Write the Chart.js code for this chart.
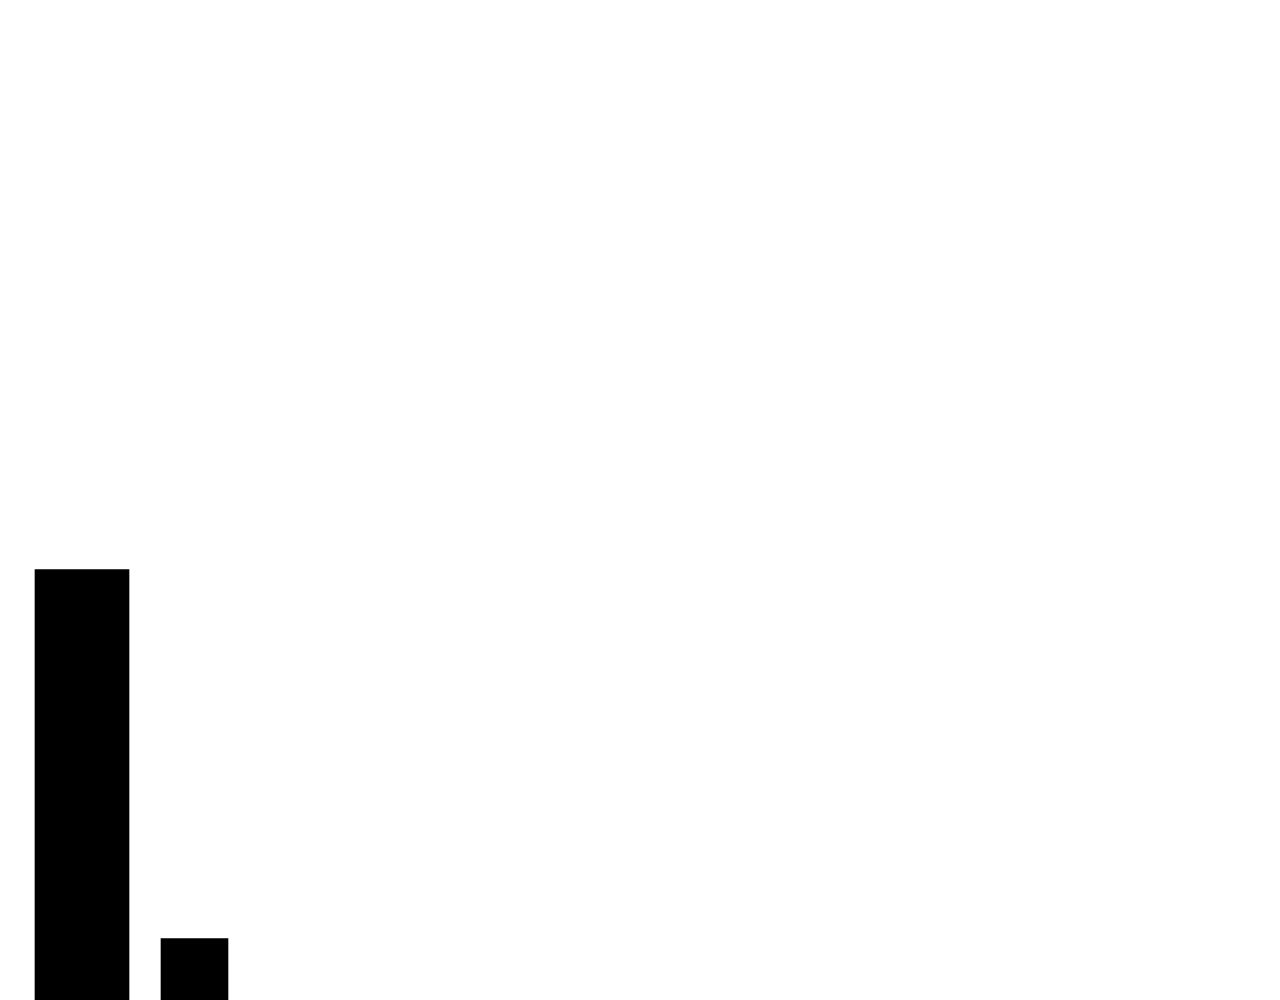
<!DOCTYPE html>
<html>
<head>
<meta charset="utf-8">
<style>
    html, body { margin: 0; padding: 0; background: #fff; }
    #chart-container { width: 1280px; height: 1000px; }
</style>
<script src="https://cdn.jsdelivr.net/npm/chart.js@4"></script>
</head>
<body>
<div id="chart-container">
    <canvas id="bar-chart" width="1280" height="1000"></canvas>
</div>
<script>
// Bar positions on the x axis and their heights
const barPositions = [1, 2];
const barValues = [7, 1];

// Style only: each bar has its own width
const barWidths = [94, 67];
const barColor = '#000000';

// One dataset per bar so each can keep its own thickness
const datasets = barPositions.map((pos, i) => ({
    data: [{ x: pos, y: barValues[i] }],
    backgroundColor: barColor,
    borderWidth: 0,
    barThickness: barWidths[i],
    grouped: false
}));

new Chart(document.getElementById('bar-chart'), {
    type: 'bar',
    data: { datasets: datasets },
    options: {
        responsive: false,
        animation: false,
        devicePixelRatio: 1,
        layout: {
            padding: { top: 16, left: 25.75, right: 16.75, bottom: 0 }
        },
        scales: {
            x: {
                type: 'linear',
                min: 0.5,
                max: 11.5,
                offset: false,
                display: false
            },
            y: {
                min: 0,
                max: 16,
                display: false
            }
        },
        plugins: {
            legend: { display: false },
            tooltip: { enabled: false }
        }
    }
});
</script>
</body>
</html>
